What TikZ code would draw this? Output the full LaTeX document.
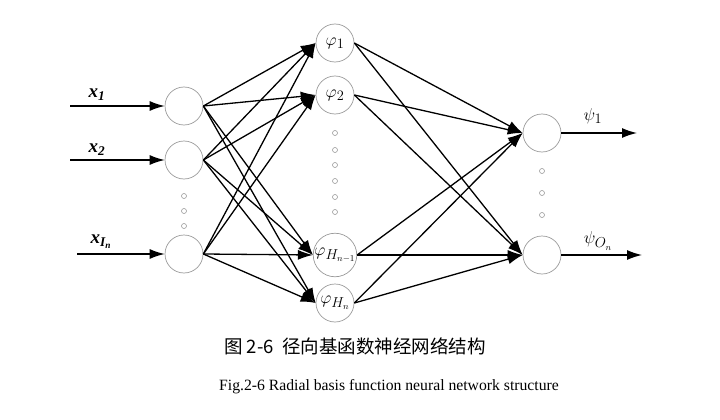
\documentclass[tikz,border=0pt]{standalone}
\usepackage{fontspec}
\usepackage{amsmath}
\setmainfont{Liberation Serif}
\newfontfamily\cjk{Noto Sans CJK SC}
\usetikzlibrary{arrows.meta}

\begin{document}
\begin{tikzpicture}[x=1pt,y=-1pt,
    neuron/.style={circle, draw=gray!80, line width=0.7pt, minimum size=38pt, inner sep=0pt, font=\fontsize{19}{22}\selectfont},
    link/.style={line width=1.3pt, -{Latex[length=15pt,width=10pt]}},
    dot/.style={gray!80, line width=0.6pt},
    label/.style={font=\fontsize{19}{22}\selectfont}]

    % Fix the page to the size of the reference
    \useasboundingbox (0,0) rectangle (720,420);

    % Input layer
    \node[neuron] (in1) at (184,106) {};
    \node[neuron] (in2) at (184,160) {};
    \node[neuron] (in3) at (184,254) {};

    % Hidden layer (radial basis units)
    \node[neuron] (h1) at (335,43) {$\varphi_1$};
    \node[neuron] (h2) at (335,95) {$\varphi_2$};
    \node[neuron] (h3) at (335,255) {$\varphi_{H_{n-1}}$};
    \node[neuron] (h4) at (335,303) {$\varphi_{H_n}$};

    % Output layer
    \node[neuron] (o1) at (542,133) {};
    \node[neuron] (o2) at (542,255) {};

    % Free ends of the input and output arrows
    \coordinate (a1) at (70,106);
    \coordinate (a2) at (70,160);
    \coordinate (a3) at (77,254);
    \coordinate (b1) at (637,133);
    \coordinate (b2) at (642,255);

    % Input arrows and their labels
    \draw[link] (a1) -- (in1);
    \draw[link] (a2) -- (in2);
    \draw[link] (a3) -- (in3);
    \node[label] (lx1) at (97,95) {\textbf{\textit{x}}\textsubscript{\textbf{\textit{1}}}};
    \node[label] (lx2) at (97,150) {\textbf{\textit{x}}\textsubscript{\textbf{\textit{2}}}};
    \node[label] (lx3) at (101,242) {\textbf{\textit{x}}\textsubscript{\textbf{\textit{I\textsubscript{n}}}}};

    % Input layer to hidden layer
    \draw[link] (in1.east) -- (h1.west);
    \draw[link] (in1.east) -- (h2.west);
    \draw[link] (in1.east) -- (h3.west);
    \draw[link] (in1.east) -- (h4.west);
    \draw[link] (in2.east) -- (h1.west);
    \draw[link] (in2.east) -- (h2.west);
    \draw[link] (in2.east) -- (h3.west);
    \draw[link] (in2.east) -- (h4.west);
    \draw[link] (in3.east) -- (h1.west);
    \draw[link] (in3.east) -- (h2.west);
    \draw[link] (in3.east) -- (h3.west);
    \draw[link] (in3.east) -- (h4.west);

    % Hidden layer to output layer
    \draw[link] (h1.east) -- (o1.west);
    \draw[link] (h1.east) -- (o2.west);
    \draw[link] (h2.east) -- (o1.west);
    \draw[link] (h2.east) -- (o2.west);
    \draw[link] (h3.east) -- (o1.west);
    \draw[link] (h3.east) -- (o2.west);
    \draw[link] (h4.east) -- (o1.west);
    \draw[link] (h4.east) -- (o2.west);

    % Output arrows and their labels
    \draw[link] (o1) -- (b1);
    \draw[link] (o2) -- (b2);
    \node[label] (ly1) at (593,116) {$\psi_1$};
    \node[label] (ly2) at (598,241) {$\psi_{O_n}$};

    % Dots for the units left out
    \draw[dot] (184,196) circle (2.5) (184,211) circle (2.5) (184,226) circle (2.5);
    \draw[dot] (335,133) circle (2.5) (335,150) circle (2.5) (335,165) circle (2.5)
               (335,181) circle (2.5) (335,197) circle (2.5) (335,212) circle (2.5);
    \draw[dot] (542,171) circle (2.5) (542,193) circle (2.5) (542,215) circle (2.5);

    % Captions
    \node (cap1) at (355,346) {\fontsize{18.5}{22}\selectfont\cjk 图 2-6\ \ 径向基函数神经网络结构};
    \node (cap2) at (389,387) {\fontsize{15.7}{18}\selectfont Fig.2-6 Radial basis function neural network structure};

\end{tikzpicture}
\end{document}
